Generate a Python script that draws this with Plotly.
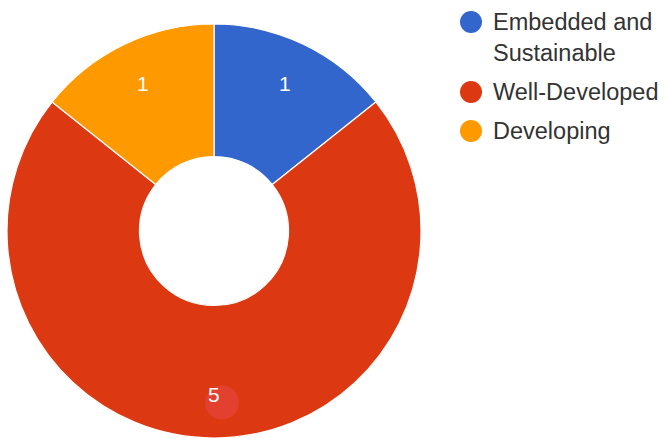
import math
import plotly.graph_objects as go

categories = ["Embedded and Sustainable", "Well-Developed", "Developing"]
legend_labels = [["Embedded and", "Sustainable"], ["Well-Developed"], ["Developing"]]
counts = [1, 5, 1]
colors = ["#3366cc", "#dc3912", "#ff9900"]

W, H = 664, 438
FONT = "Liberation Sans, Arial, sans-serif"

# Pie placement (pixels) -> paper domain
pie_left, pie_right, pie_top, pie_bottom = 7, 421, 24, 438
domain_x = [pie_left / W, pie_right / W]
domain_y = [1 - pie_bottom / H, 1 - pie_top / H]
cx = (pie_left + pie_right) / 2
cy = (pie_top + pie_bottom) / 2
radius = (pie_right - pie_left) / 2

fig = go.Figure()

fig.add_trace(go.Pie(
    labels=categories,
    values=counts,
    sort=False,
    direction="clockwise",
    rotation=0,
    hole=0.36,
    marker=dict(colors=colors, line=dict(color="white", width=1.2)),
    textinfo="none",
    showlegend=False,
    domain=dict(x=domain_x, y=domain_y),
    hoverinfo="label+value+percent",
))

# Value labels placed near the outer part of each slice
total = sum(counts)
cum = 0
label_r = 0.79 * radius
annotations = []
label_px = []
for v in counts:
    mid = (cum + v / 2) / total * 2 * math.pi
    cum += v
    px = cx + label_r * math.sin(mid)
    py = cy - label_r * math.cos(mid)
    label_px.append((px, py))
    annotations.append(dict(
        x=px / W, y=1 - py / H, xref="paper", yref="paper",
        xanchor="center", yanchor="middle",
        text=str(v), showarrow=False,
        font=dict(color="white", size=21, family=FONT),
    ))

# Hover highlight dot under the largest slice's label
big = counts.index(max(counts))
hx, hy = label_px[big]
hx += 8
hy += 8
shapes = [dict(
    type="circle", xref="paper", yref="paper",
    x0=(hx - 17) / W, x1=(hx + 17) / W,
    y0=1 - (hy + 17) / H, y1=1 - (hy - 17) / H,
    fillcolor="#e3402f", line=dict(width=0), layer="above",
)]

# Legend: round swatches with labels, laid out top-down
dot_x, text_x, dot_r = 471, 492, 11
line_h, entry_gap = 31, 39
y = 22
for lines, col in zip(legend_labels, colors):
    shapes.append(dict(
        type="circle", xref="paper", yref="paper",
        x0=(dot_x - dot_r) / W, x1=(dot_x + dot_r) / W,
        y0=1 - (y + dot_r) / H, y1=1 - (y - dot_r) / H,
        fillcolor=col, line=dict(width=0), layer="above",
    ))
    block_mid = y + (len(lines) - 1) * line_h / 2
    annotations.append(dict(
        x=text_x / W, y=1 - block_mid / H, xref="paper", yref="paper",
        xanchor="left", yanchor="middle", align="left",
        text="<br>".join(lines), showarrow=False, borderpad=0,
        font=dict(color="#333333", size=23.5, family=FONT),
    ))
    y += (len(lines) - 1) * line_h + entry_gap

fig.update_layout(
    width=W, height=H,
    margin=dict(l=0, r=0, t=0, b=0),
    paper_bgcolor="white", plot_bgcolor="white",
    font=dict(family=FONT, color="#333333", size=24),
    showlegend=False,
    annotations=annotations,
    shapes=shapes,
)

fig.write_html("out.html")
